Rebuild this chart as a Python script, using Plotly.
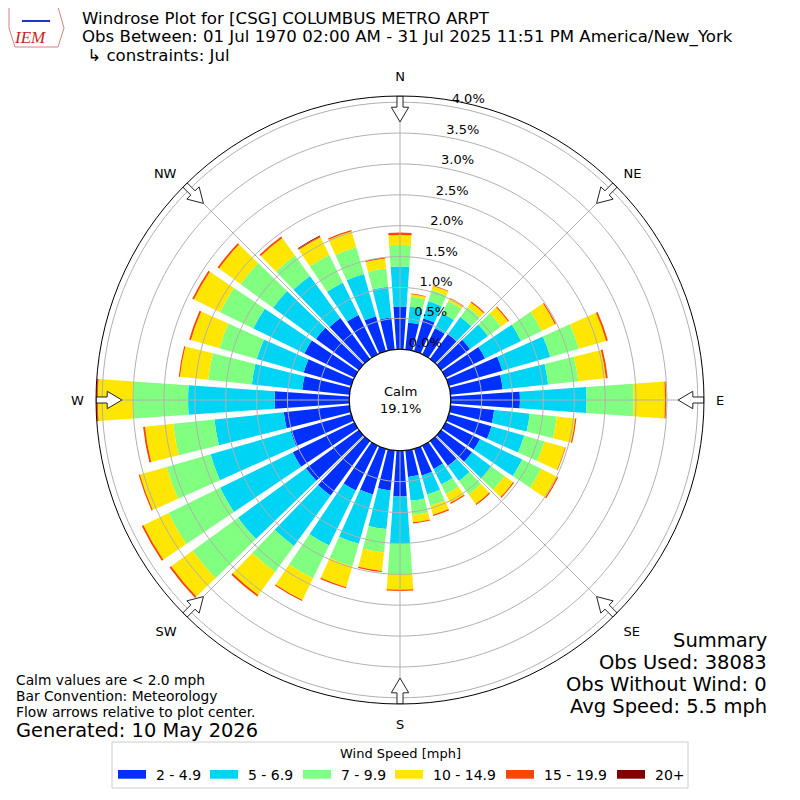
import plotly.graph_objects as go

# wind directions (deg, meteorological) and speed bins
directions = list(range(0, 360, 10))
bins = ["2 - 4.9", "5 - 6.9", "7 - 9.9", "10 - 14.9", "15 - 19.9", "20+"]
colors = ["#0030ff", "#00d4f5", "#80ff80", "#ffe600", "#ff4500", "#800000"]

# frequency (%) per direction, one list per speed bin
spd_2_5 = [0.69, 0.44, 0.55, 0.47, 0.50, 0.58, 0.71, 0.90, 0.85, 1.12, 0.71, 0.72,
           0.62, 0.62, 0.50, 0.42, 0.45, 0.43, 0.74, 0.65, 0.77, 0.81, 1.09, 1.06,
           1.11, 1.02, 1.07, 1.21, 0.77, 0.80, 0.90, 0.86, 0.82, 0.71, 0.59, 0.52]
spd_5_7 = [0.65, 0.26, 0.29, 0.27, 0.34, 0.36, 0.65, 0.81, 0.74, 1.08, 0.58, 0.55,
           0.76, 0.38, 0.30, 0.28, 0.32, 0.39, 0.76, 0.63, 0.83, 0.99, 1.01, 1.36,
           1.31, 1.35, 1.13, 1.40, 0.82, 0.79, 0.92, 0.86, 0.84, 0.58, 0.71, 0.50]
spd_7_10 = [0.35, 0.16, 0.19, 0.22, 0.20, 0.26, 0.37, 0.48, 0.49, 0.76, 0.44, 0.34,
            0.34, 0.27, 0.27, 0.17, 0.19, 0.23, 0.50, 0.38, 0.38, 0.59, 0.52, 0.91,
            0.93, 0.74, 0.67, 0.89, 0.71, 0.63, 0.60, 0.65, 0.41, 0.50, 0.45, 0.30]
spd_10_15 = [0.16, 0.04, 0.07, 0.05, 0.09, 0.14, 0.24, 0.46, 0.45, 0.51, 0.30, 0.35,
             0.29, 0.17, 0.19, 0.16, 0.15, 0.12, 0.25, 0.30, 0.35, 0.39, 0.46, 0.43,
             0.45, 0.45, 0.46, 0.57, 0.46, 0.48, 0.47, 0.43, 0.35, 0.32, 0.27, 0.16]
spd_15_20 = [0.04, 0.01, 0.01, 0.01, 0.02, 0.02, 0.02, 0.03, 0.03, 0.02, 0.02, 0.01,
             0.02, 0.02, 0.02, 0.02, 0.02, 0.02, 0.02, 0.02, 0.02, 0.02, 0.03, 0.03,
             0.03, 0.02, 0.03, 0.03, 0.02, 0.03, 0.03, 0.03, 0.03, 0.02, 0.02, 0.02]
spd_20_up = [0, 0, 0, 0, 0, 0, 0, 0, 0, 0, 0, 0,
             0, 0, 0, 0, 0, 0, 0, 0, 0, 0, 0, 0,
             0, 0, 0, 0, 0, 0, 0, 0, 0, 0.01, 0, 0]
series = [spd_2_5, spd_5_7, spd_7_10, spd_10_15, spd_15_20, spd_20_up]

calm_pct = 19.1
rings = [0, 0.5, 1.0, 1.5, 2.0, 2.5, 3.0, 3.5, 4.0]
ring_labels = ["%.1f%%" % v for v in rings]
rmax = 4.1
compass = ["N", "NE", "E", "SE", "S", "SW", "W", "NW"]
compass_deg = [0, 45, 90, 135, 180, 225, 270, 315]

title_lines = ["Windrose Plot for [CSG] COLUMBUS METRO ARPT",
               "Obs Between: 01 Jul 1970 02:00 AM - 31 Jul 2025 11:51 PM America/New_York",
               " \u21b3 constraints: Jul"]
notes = ["Calm values are < 2.0 mph", "Bar Convention: Meteorology",
         "Flow arrows relative to plot center."]
generated = "Generated: 10 May 2026"
summary = ["Summary", "Obs Used: 38083", "Obs Without Wind: 0", "Avg Speed: 5.5 mph"]
legend_title = "Wind Speed [mph]"

FONT = "DejaVu Sans"
GRID = "#b0b0b0"
W = H = 784   # page body has an 8px margin, keep the whole figure in view
OFF = 8


def px(x):
    return (x - OFF) / W


def py(y):
    return 1 - (y - OFF) / H


fig = go.Figure()
for name, vals, col in zip(bins, series, colors):
    fig.add_trace(go.Barpolar(r=vals, theta=directions, width=8, name=name,
                              showlegend=False,
                              marker=dict(color=col, line=dict(width=0))))

# grid drawn over the bars (like the matplotlib original)
gr, gt = [], []
for v in rings:
    gr += [v] * 181 + [None]
    gt += list(range(0, 362, 2)) + [None]
for d in compass_deg:
    gr += [0, rmax, None]
    gt += [d, d, None]
fig.add_trace(go.Scatterpolar(r=gr, theta=gt, mode="lines", showlegend=False,
                              line=dict(color=GRID, width=1), hoverinfo="skip"))

# calm circle outline
fig.add_trace(go.Scatterpolar(r=[0] * 181, theta=list(range(0, 362, 2)), mode="lines",
                              showlegend=False, line=dict(color="black", width=1.2),
                              hoverinfo="skip"))

# flow arrows on the rim pointing to the center
ar, at = [], []
arrow_r = [4.1, 3.92, 3.92, 3.68, 3.92, 3.92, 4.1, 4.1]
arrow_dt = [-0.57, -0.59, -1.7, 0, 1.7, 0.59, 0.57, -0.57]
for d in compass_deg:
    ar += arrow_r + [None]
    at += [d + t for t in arrow_dt] + [None]
fig.add_trace(go.Scatterpolar(r=ar, theta=at, mode="lines", fill="toself",
                              fillcolor="white", showlegend=False,
                              line=dict(color="#222222", width=1), hoverinfo="skip"))

# radial labels, matplotlib style (just past the N spoke, above each ring)
fig.add_trace(go.Scatterpolar(r=rings, theta=[10] * len(rings), mode="text",
                              text=ring_labels, textposition="top right",
                              textfont=dict(size=13, color="black"),
                              showlegend=False, hoverinfo="skip"))

cx, rad = 400, 304
fig.update_layout(
    width=W, height=H,
    margin=dict(l=0, r=0, t=0, b=0),
    paper_bgcolor="white",
    showlegend=False,
    font=dict(family=FONT, size=13, color="black"),
    polar=dict(
        domain=dict(x=[px(cx - rad), px(cx + rad)], y=[py(cx + rad), py(cx - rad)]),
        hole=0.167,
        bgcolor="white",
        barmode="stack",
        radialaxis=dict(range=[0, rmax], showgrid=False, showline=False, ticks="",
                        showticklabels=False),
        angularaxis=dict(rotation=90, direction="clockwise", tickvals=compass_deg,
                         ticktext=compass, showgrid=False, showline=True,
                         linecolor="black", linewidth=1, ticks="outside",
                         ticklen=9, tickcolor="rgba(0,0,0,0)",
                         tickfont=dict(size=13)),
    ),
)

# legend box drawn like the matplotlib one: wide swatches in one row
legend_x = [118, 210, 303, 395, 506, 617]
shapes = [dict(type="rect", xref="paper", yref="paper", x0=px(112), x1=px(688),
               y0=py(788), y1=py(742), line=dict(color="#cccccc", width=1),
               fillcolor="white", layer="below")]
ann = [dict(text=legend_title, x=px(400), y=py(753), xanchor="center",
            yanchor="middle", font=dict(size=13))]
for lx, name, col in zip(legend_x, bins, colors):
    shapes.append(dict(type="rect", xref="paper", yref="paper", x0=px(lx),
                       x1=px(lx + 28), y0=py(778.7), y1=py(770),
                       line=dict(width=0), fillcolor=col))
    ann.append(dict(text=name, x=px(lx + 36), y=py(774.5), xanchor="left",
                    yanchor="middle", font=dict(size=14)))

# rough IEM logo: state outline with a small blue glyph
logo = "M %f,%f L %f,%f L %f,%f L %f,%f L %f,%f L %f,%f Z" % (
    px(9), py(7), px(58), py(7), px(64), py(28), px(58), py(47),
    px(15), py(47), px(9), py(28))
shapes.append(dict(type="path", xref="paper", yref="paper", path=logo,
                   line=dict(color="#d88080", width=1)))
shapes.append(dict(type="line", xref="paper", yref="paper", x0=px(22), x1=px(50),
                   y0=py(21), y1=py(21), line=dict(color="#2233cc", width=2)))

for i, t in enumerate(title_lines):
    ann.append(dict(text=t, x=px(80), y=py(18.5 + 18.5 * i), xanchor="left",
                    yanchor="middle", font=dict(size=16.6)))
for i, t in enumerate(notes):
    ann.append(dict(text=t, x=px(14), y=py(680 + 16 * i), xanchor="left",
                    yanchor="middle", font=dict(size=13.8)))
ann.append(dict(text=generated, x=px(14), y=py(730), xanchor="left",
                yanchor="middle", font=dict(size=19.4)))
for i, t in enumerate(summary):
    ann.append(dict(text=t, x=px(769), y=py(640 + 22 * i), xanchor="right",
                    yanchor="middle", font=dict(size=19.5)))
ann.append(dict(text="Calm<br>%.1f%%" % calm_pct, x=px(400), y=py(400),
                xanchor="center", yanchor="middle", font=dict(size=13)))
ann.append(dict(text="<i>IEM</i>", x=px(30), y=py(38), xanchor="center",
                yanchor="middle", font=dict(size=17, color="#cc2222",
                                            family="Liberation Serif")))
for a in ann:
    a.update(xref="paper", yref="paper", showarrow=False)
fig.update_layout(annotations=ann, shapes=shapes)

fig.write_html("out.html")
